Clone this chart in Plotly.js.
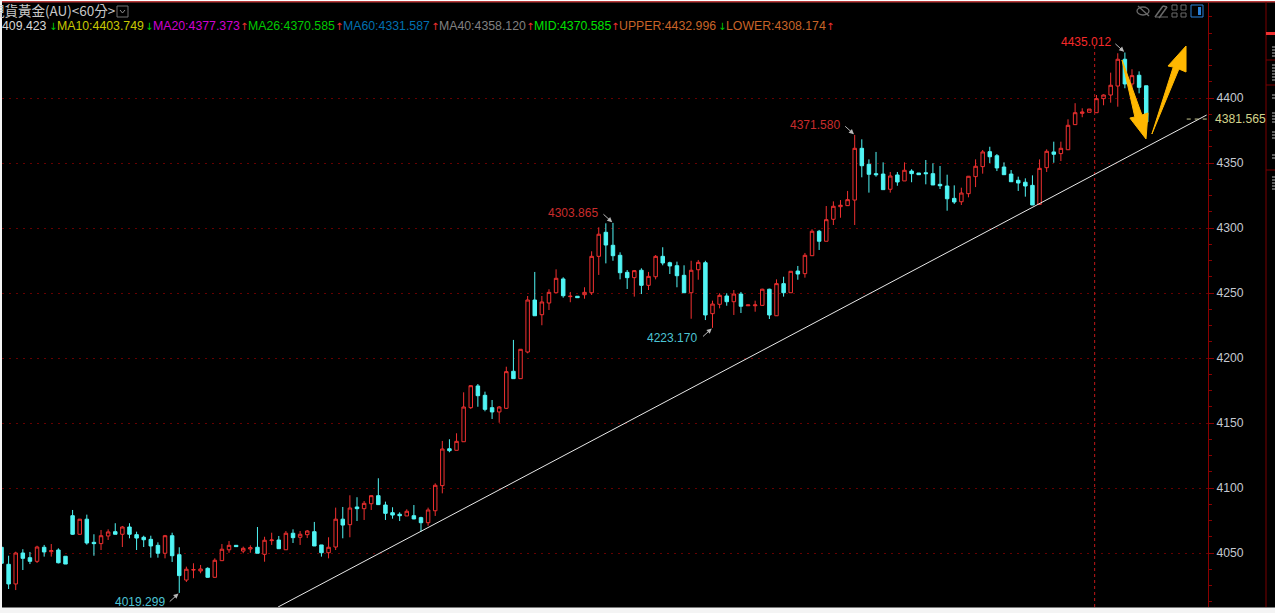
<!DOCTYPE html>
<html><head><meta charset="utf-8">
<script src="https://cdn.plot.ly/plotly-3.0.1.min.js"></script>
<style>html,body{margin:0;padding:0;background:#000;overflow:hidden}#c{width:1275px;height:613px}</style>
</head><body><div id="c"></div>
<script>
const opens=[4054.4,4041.3,4026.2,4050,4046.4,4043.6,4054.4,4051,4052.3,4047.5,
4078.7,4064.4,4076,4058.2,4057.2,4063.1,4066.4,4064.4,4070,4064.1,
4062.1,4060.5,4055.9,4049.8,4063.3,4048.7,4029.2,4036.9,4036.2,4038.2,
4031.3,4044.1,4052.5,4055.9,4051.5,4053.1,4054.4,4049,4059.5,4060,
4052.5,4065.2,4062.1,4064.1,4066.4,4056.2,4050.2,4054.6,4076,4071.8,
4085.4,4084.1,4087.9,4094.1,4086.9,4081,4079.8,4078.5,4078.7,4077.2,
4073.3,4082.5,4101.8,4130.2,4129,4135.6,4161.8,4178.5,4171.3,4161.8,
4158.5,4161.3,4189.8,4184.1,4204.6,4244.6,4233.3,4242.3,4250.2,4260.8,
4247.2,4247.5,4248.7,4250.2,4278.2,4296.7,4286.7,4279,4265.9,4261.8,
4267.5,4255.9,4262.5,4278.2,4273.3,4271,4263.6,4250.2,4267.9,4273.3,
4234.1,4241.3,4247.7,4243.3,4249.2,4240.2,4240.2,4240.5,4252.9,4232.5,
4257.2,4250.2,4266.9,4264.9,4278.7,4297.5,4289.8,4306.7,4316.4,4317.2,
4321.5,4361.3,4349,4341.8,4341.5,4329.8,4340.8,4336.2,4343.8,4342.3,
4342.5,4341.8,4333.6,4332.3,4322.8,4320.2,4326.4,4339.5,4347.2,4358.7,
4355.6,4346.9,4341.5,4336.7,4335.2,4332.8,4318.2,4346.4,4358.5,4357.2,
4360.2,4379.5,4388.2,4389,4388.7,4399.5,4402.3,4409.2,4429.8,4410.8,
4417.5,4409.4];
const highs=[4060.5,4047.9,4051,4052.9,4050.8,4055.6,4056.2,4056.9,4053.6,4047.5,
4083.1,4076.2,4079.5,4064.4,4067.7,4068.2,4072.9,4070.8,4072.9,4066.4,
4063.3,4063.3,4058.2,4063.9,4065.6,4054.4,4039.5,4042.1,4040.8,4039,
4045.9,4056.9,4059.2,4055.9,4054.9,4055.9,4070,4062.5,4065.6,4063.1,
4066.9,4068.2,4066.9,4067.7,4073.9,4056.2,4062.1,4084.9,4085.4,4094.4,
4092.9,4090,4094.4,4107.5,4089.5,4085.2,4081.3,4083.6,4086.9,4077.9,
4084.9,4103.6,4136.2,4137.5,4142.1,4173.6,4179.2,4180,4174.1,4167.7,
4163.1,4193.3,4213.9,4206.9,4247.7,4266.2,4247.7,4252.9,4268.2,4262.1,
4250.8,4247.5,4254.4,4282.1,4300.5,4303.6,4303.9,4281.3,4267.7,4267.7,
4269,4266.2,4279.2,4285.2,4274.1,4274.1,4271.3,4274.8,4275.4,4274.8,
4244.1,4249.8,4249.8,4252.3,4250.8,4240.8,4244.1,4253.3,4253.3,4260.5,
4262.5,4266.7,4270.8,4280.8,4299,4298.5,4316.9,4320.5,4321.5,4328.5,
4371.6,4368.2,4352.8,4358.5,4350.5,4343.1,4343.1,4350.5,4345.2,4342.3,
4352.3,4349.8,4347.7,4341,4332.8,4331,4340,4352.8,4360,4362.5,
4356.9,4350.5,4344.6,4339.5,4338.2,4340.5,4352.8,4360.5,4366.4,4366.4,
4383.6,4396,4392.1,4391.5,4402.3,4402.8,4419.5,4434.4,4435,4422.1,
4420.5,4409.4];
const lows=[4042.1,4022.3,4021.5,4036.9,4041.5,4042.3,4047.2,4047.2,4042,4041.5,
4063.9,4064.1,4056.4,4047.9,4052.3,4060,4064.4,4054.6,4061.3,4052.3,
4054.6,4046.4,4046.4,4045.9,4043.1,4019.3,4027.7,4030.6,4034.4,4031,
4031,4044.1,4050.2,4054.9,4049.8,4050.2,4049.8,4043.3,4056.2,4053.3,
4052.5,4057.7,4056.2,4061.5,4055.4,4047.2,4045.9,4052.3,4061.3,4062.1,
4074.6,4075.4,4083.1,4086.9,4075.4,4076.4,4074.6,4078.5,4076,4066.4,
4071,4078.5,4095.9,4127.5,4129,4135.6,4160.8,4162.5,4159,4153.1,
4150.2,4160.8,4184.1,4184.1,4203.6,4232.5,4225.2,4236.9,4250.2,4246.4,
4242.9,4246.4,4245.6,4248.5,4263.9,4272.8,4274.8,4260.5,4253.1,4247.2,
4249.2,4252.3,4260.5,4271.3,4264.6,4254.4,4250.2,4230.2,4260.2,4229.2,
4223.2,4238.2,4240.2,4233.1,4234.6,4240.2,4235.6,4240,4230,4232.3,
4247.2,4250.2,4260.2,4261.8,4278.7,4283.1,4289.8,4302.3,4307.9,4316.9,
4302.3,4339,4327.2,4339.5,4329.5,4327.2,4332.5,4336.2,4335.2,4341,
4333.6,4333.1,4330,4313.3,4318.5,4317.7,4323.6,4331.5,4341.8,4350,
4343.8,4340.8,4335.6,4328.5,4324.1,4317.7,4317.7,4343.1,4350.2,4351.5,
4360,4379.2,4385.2,4389,4388.7,4394.4,4396.4,4393.3,4407.5,4403.6,
4403.6,4381.6];
const closes=[4042.1,4026.2,4050,4045.9,4043.6,4054.6,4050.8,4051.8,4042.5,4041.5,
4064.4,4076,4057.7,4057.2,4063.3,4066.2,4064.4,4070,4064.4,4061.5,
4060.2,4055.4,4049.8,4063.3,4047.9,4032.6,4037.5,4037.2,4037.7,4031.3,
4044.4,4052.9,4055.9,4054.9,4053.6,4054.1,4049.8,4059.8,4060,4053.3,
4065.2,4061.8,4064.4,4066.9,4055.4,4050.2,4054.4,4076,4071.5,4084.6,
4084.1,4088.2,4094.1,4087.2,4080.5,4079.2,4078.7,4082.1,4076.2,4073.3,
4083.1,4102.1,4130,4128.7,4135.9,4162.3,4178.7,4171,4160.5,4158.5,
4162.3,4189.5,4184.1,4206.7,4244.6,4232.5,4243.1,4250.5,4261.3,4247.9,
4247.5,4246.4,4250.5,4278.2,4295.2,4286.9,4278.7,4265.6,4261.8,4267.2,
4255.9,4262.8,4278.2,4273.1,4270.8,4263.3,4250.2,4267.5,4273.6,4233.1,
4241.5,4248.2,4243.3,4249.2,4239.8,4240.8,4240.8,4252.9,4233.1,4257.2,
4250.2,4266.7,4264.6,4279,4297.5,4289.8,4306.4,4316.7,4317.5,4321.8,
4361.3,4347.9,4341.3,4341,4329.5,4340,4335.4,4344.4,4341.8,4341,
4341.8,4333.1,4332.5,4322.5,4320,4326.9,4339.8,4347.5,4358.5,4354.8,
4346.2,4341,4335.6,4334.6,4332.3,4317.7,4345.9,4359,4356.7,4361.3,
4379,4388.7,4389.2,4391.5,4399.5,4402.3,4409.8,4429.8,4410.8,4417.2,
4408.2,4381.6];
const candleIndex=opens.map((_,i)=>i);
const priceTicks=[4050,4100,4150,4200,4250,4300,4350,4400];
const trendX=[38.9,169.5], trendY=[4008.46,4386.9];
const cursorX=[153.75,153.75], cursorY=[4440,4008.5];
const lastPriceX=[166.7,169.6], lastPriceY=[4383.8,4383.8];
const downArrowX=[157.6,160.4,161.25,160.97,158.7,159.4,157.6];
const downArrowY=[4429.2,4386.9,4388.5,4368.5,4384.6,4385.4,4429.2];
const upArrowX=[161.8,164.8,164.06,166.6,166.6,165.6,161.8];
const upArrowY=[4372.3,4423.8,4424.6,4440,4420,4422.3,4372.3];
const extremes=[
 {label:'4435.012',color:'#f52a2a',i:158,p:4435,tx:1061,ty:42,ax:-11,ay:-10},
 {label:'4371.580',color:'#c92c2c',i:120,p:4371.6,tx:790,ty:125,ax:-11,ay:-10},
 {label:'4303.865',color:'#c92c2c',i:86,p:4303.9,tx:548,ty:213,ax:-11,ay:-10},
 {label:'4223.170',color:'#4cc4d4',i:100,p:4223.2,tx:647,ty:338,ax:-11,ay:10},
 {label:'4019.299',color:'#4cc4d4',i:25,p:4019.3,tx:115,ty:602,ax:-11,ay:10}];
const header=[
 ['409.423','#d8d8d8',2],['↓','#00d000',49],['MA10:4403.749','#c8c800',57],['↓','#00d000',145],
 ['MA20:4377.373','#d000d0',152.5],['↑','#f03030',240],['MA26:4370.585','#00c800',248],['↑','#f03030',335],
 ['MA60:4331.587','#0070b0',343],['↑','#f03030',431],['MA40:4358.120','#808080',439],['↑','#f03030',526],
 ['MID:4370.585','#00e000',534],['↑','#f03030',611],['UPPER:4432.996','#c86428',619],['↓','#00d000',717.5],
 ['LOWER:4308.174','#c86428',725.5],['↑','#f03030',826]];
const sideGlyphs=[[47,58],[65,82],[95,100],[113,123],[132,138],[155,160],[177,190]];
const sideRules=[60,85,170];

const W=1275,H=613,L=2,R=67,T=3,B=6;
const px=x=>(x-L)/(W-L-R), py=y=>1-(y-T)/(H-T-B);
const rect=(x0,y0,x1,y1,fill,line)=>({type:'rect',xref:'paper',yref:'paper',x0:px(x0),x1:px(x1),y0:py(y0),y1:py(y1),
  fillcolor:fill||'rgba(0,0,0,0)',line:{color:line||fill,width:line?1:0},layer:'above'});
const seg=(x0,y0,x1,y1,c,w)=>({type:'line',xref:'paper',yref:'paper',x0:px(x0),x1:px(x1),y0:py(y0),y1:py(y1),line:{color:c,width:w||1},layer:'above'});
const glyphStrokes=[];
sideGlyphs.forEach(g=>{for(let y=g[0];y<=g[1];y+=3){glyphStrokes.push(seg(1272,y,1275,y,'#b8b8b8',1));}});

const shapes=[
 rect(0,0,1275,1,'#ffffff'),rect(0,1,1275,2.5,'#b83a3a'),
 rect(0,0,2,613,'#f4f4f4'),rect(0,607.5,1275,613,'#f4f4f4'),
 seg(1266,2,1266,607,'#7a0000'),rect(1266,32,1275,35,'#f03030'),
 ...sideRules.map(y=>seg(1266,y,1275,y,'#7a0000')),
 ...glyphStrokes,
 {type:'circle',xref:'paper',yref:'paper',x0:px(1137),x1:px(1149),y0:py(7),y1:py(15),fillcolor:'rgba(0,0,0,0)',line:{color:'#6a6a6a',width:1.3},layer:'above'},
 seg(1138,6,1149,16,'#6a6a6a',1.3),
 seg(1155,17,1163,6,'#6a6a6a',1.5),seg(1159,18,1167,7,'#6a6a6a',1.5),seg(1163,6,1167,7,'#6a6a6a',1.5),seg(1155,17,1168,17,'#6a6a6a',1),
 rect(1172,5,1177,10,null,'#6a6a6a'),rect(1181,5,1186,10,null,'#6a6a6a'),rect(1172,13,1177,17,null,'#6a6a6a'),rect(1181,13,1186,17,null,'#6a6a6a'),
 rect(1191,5,1203,17,null,'#2a80d8'),rect(1198,7,1201,15,'#2a80d8'),
 rect(117,6,128,17,null,'#707070'),seg(120,10,122.5,13,'#909090'),seg(122.5,13,125,10,'#909090')
];
const ann=(text,x,y,color,size,family)=>({xref:'paper',yref:'paper',x:px(x),y:py(y),xanchor:'left',yanchor:'middle',
  text:text,showarrow:false,font:{color:color,size:size,family:family||'"Liberation Sans",Arial,sans-serif'},borderpad:0,borderwidth:0});
const annotations=[
 ann('現貨黃金(AU)&lt;60分&gt;',-9,10,'#c8c8c8',13.5,'"Noto Sans CJK TC",sans-serif'),
 ...header.map(h=>h[0].length>1?ann(h[0],h[2],26,h[1],12.3):ann(h[0],h[2],26,h[1],10,'"DejaVu Sans",sans-serif')),
 ann('4381.565',1215,119,'#d4d48c',12.2),
 ...extremes.map(e=>ann(e.label,e.tx,e.ty,e.color,12)),
 ...extremes.map(e=>({xref:'x',yref:'y',x:e.i,y:e.p,axref:'pixel',ayref:'pixel',ax:e.ax,ay:e.ay,text:'',showarrow:true,
   arrowhead:2,arrowsize:1,arrowwidth:1,arrowcolor:'#b8b8b8',standoff:1}))
];

const data=[
 {type:'scatter',mode:'lines',x:cursorX,y:cursorY,line:{color:'#c01818',width:1,dash:'3px,3px'},hoverinfo:'skip'},
 {type:'candlestick',x:candleIndex,open:opens,high:highs,low:lows,close:closes,whiskerwidth:0,hoverinfo:'skip',
  increasing:{line:{color:'#f03030',width:1},fillcolor:'#000000'},
  decreasing:{line:{color:'#50f5f5',width:1},fillcolor:'#50f5f5'}},
 {type:'scatter',mode:'lines',x:trendX,y:trendY,line:{color:'#e8e8e8',width:1},hoverinfo:'skip'},
 {type:'scatter',mode:'lines',x:lastPriceX,y:lastPriceY,line:{color:'#c8c890',width:1,dash:'4px,4px'},hoverinfo:'skip'},
 {type:'scatter',mode:'lines',x:downArrowX,y:downArrowY,fill:'toself',fillcolor:'#ffb700',line:{color:'#ffb700',width:1},hoverinfo:'skip'},
 {type:'scatter',mode:'lines',x:upArrowX,y:upArrowY,fill:'toself',fillcolor:'#ffb700',line:{color:'#ffb700',width:1},hoverinfo:'skip'}
];
const layout={width:W,height:H,margin:{l:L,r:R,t:T,b:B,pad:0},paper_bgcolor:'#000',plot_bgcolor:'#000',showlegend:false,
 xaxis:{range:[0.07,169.69],visible:false,rangeslider:{visible:false},fixedrange:true},
 yaxis:{range:[4008.46,4473.08],side:'right',tickmode:'array',tickvals:priceTicks,ticks:'outside',ticklen:5,tickcolor:'#8a0000',
  tickfont:{color:'#c4c8d0',size:12.2,family:'"Liberation Sans",Arial,sans-serif'},showline:true,linecolor:'#8a0000',linewidth:1,
  showgrid:true,gridcolor:'#660000',griddash:'2px,5px',gridwidth:1,zeroline:false,fixedrange:true,
  minor:{dtick:12.5,ticks:'outside',ticklen:3,tickcolor:'#8a0000',showgrid:false}},
 shapes:shapes,annotations:annotations};
Plotly.newPlot('c',data,layout,{displayModeBar:false,staticPlot:true});
</script></body></html>
